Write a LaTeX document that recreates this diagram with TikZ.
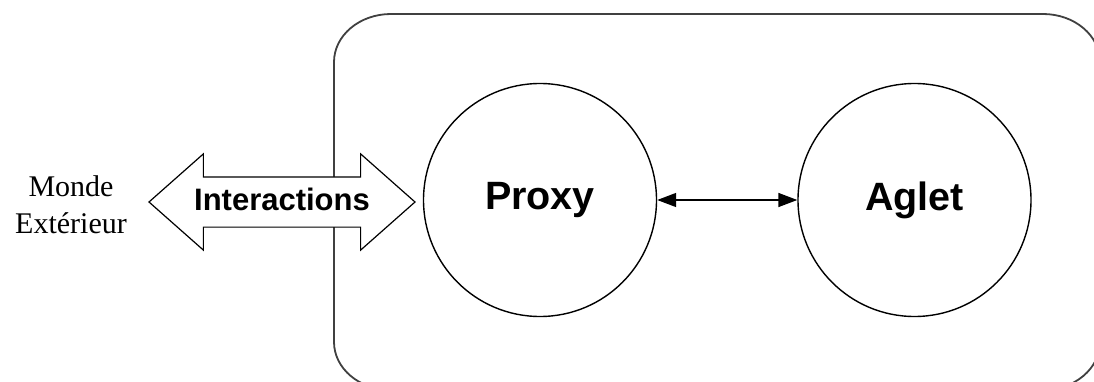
\documentclass[tikz,border=0pt]{standalone}
\usepackage{fontspec}
\setmainfont{Liberation Serif}
\newfontfamily\arialfont{Liberation Sans}
\usetikzlibrary{shapes.arrows,arrows.meta}

\tikzset{
  agent/.style={circle, draw, line width=1.4pt, minimum size=233pt, inner sep=0pt,
    font=\arialfont\bfseries\fontsize{39.5}{40}\selectfont},
  link/.style={{Triangle[length=19pt,width=14pt]}-{Triangle[length=19pt,width=14pt]}, line width=1.5pt},
  inter/.style={double arrow, draw, fill=white, line width=1.2pt,
    minimum height=266pt, minimum width=95pt, double arrow head extend=23pt,
    double arrow tip angle=83, inner xsep=-9pt, inner ysep=0pt,
    text height=33pt, text depth=16pt,
    font=\arialfont\bfseries\fontsize{31}{37}\selectfont},
}

\begin{document}
\begin{tikzpicture}[x=1pt,y=1pt]
  \useasboundingbox (0,0) rectangle (1094,381);
  \clip (0,0) rectangle (1094,381);
  % 圆角框, 右边和下边超出画面
  \draw[line width=1.8pt, black!75] (334,39) -- (334,319)
    arc[start angle=180, end angle=90, x radius=57, y radius=48] -- (1043,367)
    arc[start angle=90, end angle=0, x radius=57, y radius=48] -- (1100,39)
    arc[start angle=0, end angle=-90, x radius=57, y radius=48] -- (391,-9)
    arc[start angle=270, end angle=180, x radius=57, y radius=48] -- cycle;
  \node[agent] (proxy) at (540,181) {Proxy};
  \node[agent] (aglet) at (914.5,181) {Aglet};
  \draw[link] (proxy) -- (aglet); % 双向箭头
  \node[inter] (interactions) at (282,179) {Interactions}; % 白色填充, 盖住框线
  \node[align=center, font=\fontsize{30}{37}\selectfont] (monde) at (71,176) {Monde\\Extérieur};
\end{tikzpicture}
\end{document}
